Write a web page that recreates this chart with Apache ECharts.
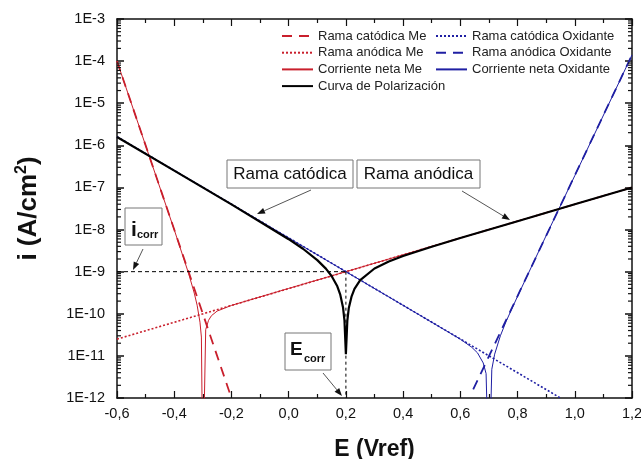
<!DOCTYPE html>
<html>
<head>
<meta charset="utf-8">
<script src="https://cdn.jsdelivr.net/npm/echarts@6/dist/echarts.min.js"></script>
<style>
  html, body { margin: 0; padding: 0; background: #fff; }
  #chart { width: 641px; height: 459px; }
</style>
</head>
<body>
<div id="chart"></div>
<script>
// Potential axis (V vs ref) and current density axis (A/cm2, log)
const xMin = -0.6, xMax = 1.2, xStep = 0.2;
const yMin = 1e-12, yMax = 1e-3;
const yTickExponents = [-12, -11, -10, -9, -8, -7, -6, -5, -4, -3];

// Corrosion point
const Ecorr = 0.2;
const icorr = 1e-9;

// Tafel branches of the metal (Me)
const cathMeE = [-0.6, -0.2];
const cathMeI = [1.0e-4, 1.0e-12];
const anodMeE = [-0.6, 1.2];
const anodMeI = [2.5e-11, 1.0e-7];

// Net current of the metal
const netMeE = [-0.6, -0.4, -0.35, -0.33, -0.32, -0.31, -0.305, -0.3, -0.29, -0.28, -0.27, -0.25, -0.2, 0.0, 0.2, 1.2];
const netMeI = [1.0e-4, 9.9e-9, 9.2e-10, 3.1e-10, 1.6e-10, 6.3e-11, 2.8e-11, 1e-14, 4.2e-11, 7.0e-11, 9.0e-11, 1.16e-10, 1.58e-10, 4.0e-10, 1.0e-9, 1.0e-7];

// Tafel branches of the oxidant
const cathOxE = [-0.6, 0.95];
const cathOxI = [1.6e-6, 1.0e-12];
const anodOxE = [0.645, 1.2];
const anodOxI = [1.6e-12, 1.4e-4];

// Net current of the oxidant
const netOxE = [-0.6, 0.2, 0.5, 0.6, 0.64, 0.66, 0.68, 0.69, 0.7, 0.71, 0.72, 0.74, 0.76, 0.8, 0.9, 1.0, 1.2];
const netOxI = [1.6e-6, 1.0e-9, 6.3e-11, 2.5e-11, 1.6e-11, 1.18e-11, 6.8e-12, 3.8e-12, 1e-14, 4.8e-12, 1.1e-11, 3.0e-11, 6.6e-11, 2.6e-10, 7.2e-9, 1.9e-7, 1.4e-4];

// Polarization curve (measured net current)
const polE = [-0.6, -0.4, -0.2, 0.0, 0.05, 0.1, 0.13, 0.15, 0.17, 0.18, 0.19, 0.195, 0.2, 0.205, 0.21, 0.22, 0.23, 0.25, 0.3, 0.35, 0.4, 0.5, 0.6, 0.8, 1.0, 1.2];
const polI = [1.58e-6, 2.51e-7, 3.96e-8, 5.9e-9, 3.5e-9, 1.88e-9, 1.18e-9, 7.9e-10, 4.5e-10, 2.9e-10, 1.41e-10, 7.0e-11, 1.1e-11, 6.8e-11, 1.35e-10, 2.6e-10, 3.9e-10, 6.3e-10, 1.19e-9, 1.74e-9, 2.35e-9, 3.9e-9, 6.3e-9, 1.58e-8, 3.98e-8, 1.0e-7];

// Log minor tick positions (2..9 within each decade)
const yMinorTicks = [];
for (let e = -12; e < -3; e++) {
  for (let k = 2; k <= 9; k++) yMinorTicks.push(k * Math.pow(10, e));
}

const RED = '#c91f2c';
const BLUE = '#1f1fa3';
const FONT = '"Liberation Sans", Arial, sans-serif';

const pairs = (xs, ys) => xs.map((x, i) => [x, ys[i]]);

const chart = echarts.init(document.getElementById('chart'), null, { renderer: 'canvas' });

const xLabel = v => {
  if (Math.abs(v) < 1e-9) return '0,0';
  return v.toFixed(1).replace('.', ',');
};

function lineSeries(name, data, color, width, type, z) {
  return {
    name, type: 'line', data, symbol: 'none', smooth: false,
    lineStyle: { color, width, type }, itemStyle: { color },
    z: z || 2, animation: false
  };
}

// Arrow built from a shaft and a filled head
function arrow(x1, y1, x2, y2) {
  const ang = Math.atan2(y2 - y1, x2 - x1);
  const L = 8, W = 3;
  const bx = x2 - L * Math.cos(ang), by = y2 - L * Math.sin(ang);
  const px = -Math.sin(ang) * W, py = Math.cos(ang) * W;
  return [
    { type: 'line', shape: { x1, y1, x2: bx, y2: by }, style: { stroke: '#555', lineWidth: 1 }, z: 20 },
    { type: 'polygon', shape: { points: [[x2, y2], [bx + px, by + py], [bx - px, by - py]] }, style: { fill: '#111' }, z: 20 }
  ];
}

function box(x, y, w, h) {
  return { type: 'rect', shape: { x, y, width: w, height: h }, style: { fill: '#fff', stroke: '#777', lineWidth: 1 }, z: 15 };
}

const legendBase = {
  orient: 'vertical', padding: 0, itemWidth: 31, itemHeight: 14, itemGap: 2.7,
  textStyle: { fontFamily: FONT, fontSize: 13, color: '#222', lineHeight: 14 },
  itemStyle: { opacity: 0 },
  selectedMode: false
};

const axisLineStyle = { color: '#111', width: 1.5 };
const tickStyle = { color: '#111', width: 1.2 };

const option = {
  backgroundColor: '#fff',
  animation: false,
  grid: { left: 117, right: 9, top: 19, bottom: 61, containLabel: false, outerBoundsMode: 'none' },
  legend: [
    Object.assign({}, legendBase, {
      left: 281, top: 29,
      data: ['Rama catódica Me', 'Rama anódica Me', 'Corriente neta Me', 'Curva de Polarización']
    }),
    Object.assign({}, legendBase, {
      left: 435, top: 29,
      data: ['Rama catódica Oxidante', 'Rama anódica Oxidante', 'Corriente neta Oxidante']
    })
  ],
  xAxis: [
    {
      type: 'value', min: xMin, max: xMax, interval: xStep, position: 'bottom',
      name: 'E (Vref)', nameLocation: 'middle', nameGap: 40,
      nameTextStyle: { fontFamily: FONT, fontSize: 23, fontWeight: 'bold', color: '#111' },
      axisLine: { onZero: false, lineStyle: axisLineStyle },
      axisTick: { inside: true, length: 7, lineStyle: tickStyle },
      minorTick: { show: true, splitNumber: 2, length: 4, lineStyle: tickStyle },
      axisLabel: { formatter: xLabel, fontFamily: FONT, fontSize: 14.5, color: '#111', margin: 8 },
      splitLine: { show: false }
    },
    {
      type: 'value', min: xMin, max: xMax, interval: xStep, position: 'top',
      axisLine: { onZero: false, lineStyle: axisLineStyle },
      axisTick: { inside: true, length: 7, lineStyle: tickStyle },
      minorTick: { show: true, splitNumber: 2, length: 4, lineStyle: tickStyle },
      axisLabel: { show: false },
      splitLine: { show: false }
    }
  ],
  yAxis: [
    {
      type: 'log', logBase: 10, min: yMin, max: yMax, splitNumber: 9, position: 'left',
      name: 'i (A/cm{sup|2})', nameLocation: 'middle', nameGap: 73, nameRotate: 90,
      nameTextStyle: {
        fontFamily: FONT, fontSize: 26, fontWeight: 'bold', color: '#111',
        rich: { sup: { fontFamily: FONT, fontSize: 16, fontWeight: 'bold', color: '#111', verticalAlign: 'bottom', padding: [0, 0, 14, 0] } }
      },
      axisLine: { show: true, onZero: false, lineStyle: axisLineStyle },
      axisTick: { inside: true, length: 7, lineStyle: { color: '#111', width: 1.5 } },
      axisLabel: {
        fontFamily: FONT, fontSize: 14.5, color: '#111', margin: 12,
        formatter: v => {
          const e = Math.round(Math.log10(v));
          return yTickExponents.includes(e) ? '1E' + e : '';
        }
      },
      splitLine: { show: false }
    },
    {
      type: 'log', logBase: 10, min: yMin, max: yMax, splitNumber: 9, position: 'right',
      axisLine: { show: true, onZero: false, lineStyle: axisLineStyle },
      axisTick: { inside: true, length: 7, lineStyle: { color: '#111', width: 1.5 } },
      axisLabel: { show: false },
      splitLine: { show: false }
    }
  ],
  series: [
    lineSeries('Rama catódica Me', pairs(cathMeE, cathMeI), RED, 1.8, [10, 7]),
    lineSeries('Rama anódica Me', pairs(anodMeE, anodMeI), RED, 1.6, [2, 2]),
    lineSeries('Corriente neta Me', pairs(netMeE, netMeI), RED, 1),
    lineSeries('Rama catódica Oxidante', pairs(cathOxE, cathOxI), BLUE, 1.6, [2, 2]),
    lineSeries('Rama anódica Oxidante', pairs(anodOxE, anodOxI), BLUE, 1.8, [10, 7]),
    lineSeries('Corriente neta Oxidante', pairs(netOxE, netOxI), BLUE, 1),
    lineSeries('Curva de Polarización', pairs(polE, polI), '#000', 2.2, 'solid', 4),
    // i_corr and E_corr guide lines
    lineSeries('icorr-guide', [[xMin, icorr], [Ecorr, icorr]], '#000', 1, [4, 3], 3),
    lineSeries('Ecorr-guide', [[Ecorr, icorr], [Ecorr, yMin]], '#000', 1, [3, 3], 3),
    {
      name: 'yMinor', type: 'custom', silent: true, clip: false, z: 6,
      encode: { x: 0, y: 1 },
      data: yMinorTicks.map(v => [xMin, v]),
      renderItem: (params, api) => {
        const v = api.value(1);
        const l = api.coord([xMin, v]);
        const r = api.coord([xMax, v]);
        return {
          type: 'group',
          children: [
            { type: 'line', shape: { x1: l[0], y1: l[1], x2: l[0] + 4, y2: l[1] }, style: { stroke: '#111', lineWidth: 1.2 } },
            { type: 'line', shape: { x1: r[0] - 4, y1: r[1], x2: r[0], y2: r[1] }, style: { stroke: '#111', lineWidth: 1.2 } }
          ]
        };
      }
    }
  ],
  graphic: [
    box(227, 160, 126, 28),
    { type: 'text', x: 290, y: 174, z: 16, style: { text: 'Rama catódica', font: '17px ' + FONT, fill: '#111', align: 'center', verticalAlign: 'middle' } },
    box(357, 160, 123, 28),
    { type: 'text', x: 418.5, y: 174, z: 16, style: { text: 'Rama anódica', font: '17px ' + FONT, fill: '#111', align: 'center', verticalAlign: 'middle' } },
    box(125, 208, 37, 37),
    { type: 'text', x: 131, y: 230, z: 16, style: { text: 'i', font: 'bold 21px ' + FONT, fill: '#111', verticalAlign: 'middle' } },
    { type: 'text', x: 137, y: 234.5, z: 16, style: { text: 'corr', font: 'bold 11px ' + FONT, fill: '#111', verticalAlign: 'middle' } },
    box(285, 333, 46, 37),
    { type: 'text', x: 290, y: 349.5, z: 16, style: { text: 'E', font: 'bold 19px ' + FONT, fill: '#111', verticalAlign: 'middle' } },
    { type: 'text', x: 304, y: 359, z: 16, style: { text: 'corr', font: 'bold 11px ' + FONT, fill: '#111', verticalAlign: 'middle' } },
    ...arrow(311, 190, 257, 214),
    ...arrow(462, 191, 510, 220),
    ...arrow(143, 249, 133, 270),
    ...arrow(323, 373, 342, 396)
  ]
};

chart.setOption(option);
</script>
</body>
</html>
